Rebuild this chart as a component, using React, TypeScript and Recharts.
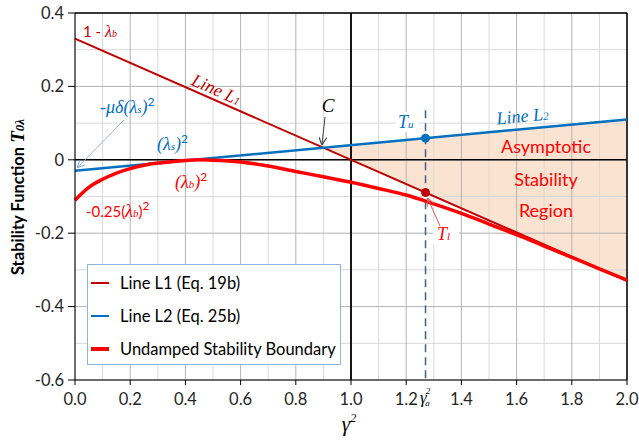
import React from 'react'
import {
  ComposedChart,
  Line,
  Area,
  XAxis,
  YAxis,
  ReferenceLine,
  ReferenceDot,
} from 'recharts'

// gamma^2 samples for the undamped stability boundary
const gammaSq = [0, 0.05, 0.1, 0.15, 0.2, 0.25, 0.3, 0.35, 0.4, 0.45, 0.5, 0.6, 0.7, 0.8, 0.9, 1.0, 1.1, 1.2, 1.3, 1.4, 1.5, 1.6, 1.7, 1.8, 1.9, 2.0]
const boundary = [-0.11, -0.075, -0.053, -0.036, -0.024, -0.015, -0.009, -0.005, -0.002, 0, -0.001, -0.006, -0.017, -0.032, -0.046, -0.061, -0.078, -0.096, -0.12, -0.146, -0.175, -0.204, -0.235, -0.266, -0.297, -0.328]

// Line L1 (Eq. 19b) and Line L2 (Eq. 25b)
const l1X = [0, 2]
const l1Y = [0.33, -0.33]
const l2X = [0, 2]
const l2Y = [-0.03, 0.11]

// asymptotic stability region, between L1 and L2 from point C
const regionX = [0.9, 2]
const regionLow = [0.033, -0.33]
const regionHigh = [0.033, 0.11]

const gammaA2 = 1.27
const tU = 0.059
const tL = -0.089

const xTicks = [0, 0.2, 0.4, 0.6, 0.8, 1.0, 1.2, 1.4, 1.6, 1.8, 2.0]
const yTicks = [-0.6, -0.4, -0.2, 0, 0.2, 0.4]
const xMinor = [0.1, 0.3, 0.5, 0.7, 0.9, 1.1, 1.3, 1.5, 1.7, 1.9]
const yMinor = [-0.5, -0.3, -0.1, 0.1, 0.3]

const boundaryData = gammaSq.map((x, i) => ({ x, y: boundary[i] }))
const l1Data = l1X.map((x, i) => ({ x, y: l1Y[i] }))
const l2Data = l2X.map((x, i) => ({ x, y: l2Y[i] }))
const regionData = regionX.map((x, i) => ({ x, r: [regionLow[i], regionHigh[i]] }))

const DARK_RED = '#C00000'
const BLUE = '#0070C0'
const RED = '#FF0000'
const SANS = 'Lato, "Noto Sans", sans-serif'
const SERIF = '"Liberation Serif", "DejaVu Serif", serif'

const legendItems = [
  { name: 'Line L1 (Eq. 19b)', color: DARK_RED, w: 2 },
  { name: 'Line L2 (Eq. 25b)', color: BLUE, w: 2.5 },
  { name: 'Undamped Stability Boundary', color: RED, w: 3.5 },
]

export default function App() {
  return (
    <div style={{ position: 'relative', width: 639, height: 441, background: '#fff', fontFamily: SANS }}>
      <style>{'body{margin:0}'}</style>
      <ComposedChart width={639} height={441} margin={{ top: 13, right: 12, left: 0, bottom: 0 }}>
        <XAxis
          type="number"
          dataKey="x"
          domain={[0, 2]}
          ticks={xTicks}
          tickFormatter={(v: number) => v.toFixed(1)}
          allowDuplicatedCategory={false}
          height={61}
          stroke="#000"
          tickSize={5}
          tickMargin={8}
          tick={{ fill: '#262626', fontSize: 16.5, fontFamily: SANS }}
        />
        <YAxis
          type="number"
          domain={[-0.6, 0.4]}
          ticks={yTicks}
          tickFormatter={(v: number) => (v === 0 ? '0' : v.toFixed(1))}
          width={75}
          stroke="#000"
          tickSize={7}
          tickMargin={4}
          tick={{ fill: '#262626', fontSize: 16.5, fontFamily: SANS }}
        />
        {xMinor.map((v) => (
          <ReferenceLine key={'xm' + v} x={v} stroke="#D9D9D9" strokeWidth={1} />
        ))}
        {yMinor.map((v) => (
          <ReferenceLine key={'ym' + v} y={v} stroke="#D9D9D9" strokeWidth={1} />
        ))}
        {xTicks.map((v) => (
          <ReferenceLine key={'xM' + v} x={v} stroke="#B3B3B3" strokeWidth={1} />
        ))}
        {yTicks.map((v) => (
          <ReferenceLine key={'yM' + v} y={v} stroke="#B3B3B3" strokeWidth={1} />
        ))}
        <Area
          data={regionData}
          dataKey="r"
          type="linear"
          fill="#FBE3D2"
          fillOpacity={1}
          stroke="none"
          isAnimationActive={false}
        />
        <ReferenceLine y={0.4} stroke="#000" strokeWidth={1.5} />
        <ReferenceLine x={2} stroke="#000" strokeWidth={1.5} />
        <ReferenceLine y={0} stroke="#000" strokeWidth={1.5} />
        <ReferenceLine x={1} stroke="#000" strokeWidth={1.8} />
        <ReferenceLine
          segment={[{ x: gammaA2, y: 0.135 }, { x: gammaA2, y: -0.6 }]}
          stroke="#3F5F8F"
          strokeWidth={1.5}
          strokeDasharray="8 5"
        />
        <Line data={l1Data} dataKey="y" type="linear" stroke={DARK_RED} strokeWidth={2} dot={false} isAnimationActive={false} />
        <Line data={l2Data} dataKey="y" type="linear" stroke={BLUE} strokeWidth={2.5} dot={false} isAnimationActive={false} />
        <Line data={boundaryData} dataKey="y" type="monotone" stroke={RED} strokeWidth={3.5} dot={false} isAnimationActive={false} />
        <ReferenceDot x={gammaA2} y={tU} r={4} fill={BLUE} stroke={BLUE} />
        <ReferenceDot x={gammaA2} y={tL} r={4} fill={DARK_RED} stroke={DARK_RED} />
      </ComposedChart>

      <svg width={639} height={441} style={{ position: 'absolute', left: 0, top: 0, pointerEvents: 'none' }}>
        <defs>
          <marker id="arrBlue" markerWidth="8" markerHeight="8" refX="7" refY="4" orient="auto">
            <path d="M0,0 L8,4 L0,8" fill="none" stroke="#7FA7D9" strokeWidth="1" />
          </marker>
          <marker id="arrGray" markerWidth="8" markerHeight="8" refX="7" refY="4" orient="auto">
            <path d="M0,0 L8,4 L0,8" fill="none" stroke="#404040" strokeWidth="1.2" />
          </marker>
          <marker id="arrRed" markerWidth="8" markerHeight="8" refX="7" refY="4" orient="auto">
            <path d="M0,0 L8,4 L0,8" fill="none" stroke="#D06060" strokeWidth="1" />
          </marker>
        </defs>

        {/* y axis title */}
        <text transform="translate(24,197) rotate(-90)" textAnchor="middle" fontFamily={SANS} fontWeight="bold" fontSize={16.5} fill="#000">
          Stability Function <tspan fontFamily={SERIF} fontStyle="italic" fontSize={19}>T</tspan>
          <tspan fontFamily={SERIF} fontStyle="italic" fontSize={13}>0λ</tspan>
        </text>

        {/* x axis title */}
        <text x={349} y={431} textAnchor="middle" fontFamily={SERIF} fontStyle="italic" fontSize={21} fill="#000">
          γ<tspan fontSize={12} dy={-9}>2</tspan>
        </text>
        <rect x={419} y={386} width={16} height={22} fill="#fff" />
        <text x={420} y={403} fontFamily={SERIF} fontStyle="italic" fontSize={17} fill="#000">
          γ<tspan fontSize={9} dx={-1} dy={-9}>2</tspan><tspan fontSize={9} dx={-5} dy={12}>a</tspan>
        </text>

        {/* L1 annotations */}
        <text x={83} y={37} fontFamily={SANS} fontSize={15} fill={DARK_RED}>
          1 - <tspan fontFamily={SERIF} fontStyle="italic" fontSize={16}>λ</tspan><tspan fontFamily={SERIF} fontStyle="italic" fontSize={10}>b</tspan>
        </text>
        <text transform="translate(214,95) rotate(23.7)" textAnchor="middle" fontFamily={SERIF} fontStyle="italic" fontSize={18} fill={DARK_RED}>
          Line L<tspan fontSize={11}>1</tspan>
        </text>

        {/* L2 annotations */}
        <text x={100} y={113} fontFamily={SERIF} fontStyle="italic" fontSize={18} fill={BLUE}>
          -μδ(λ<tspan fontSize={11}>s</tspan>)<tspan fontStyle="normal" fontFamily={SANS} fontSize={12} dy={-7}>2</tspan>
        </text>
        <line x1={124} y1={120} x2={78} y2={167} stroke="#8DB4E2" strokeWidth={1} markerEnd="url(#arrBlue)" />
        <text x={157} y={150} fontFamily={SERIF} fontStyle="italic" fontSize={18} fill={BLUE}>
          (λ<tspan fontSize={11}>s</tspan>)<tspan fontStyle="normal" fontFamily={SANS} fontSize={12} dy={-7}>2</tspan>
        </text>
        <text transform="translate(523,122) rotate(-5.3)" textAnchor="middle" fontFamily={SERIF} fontStyle="italic" fontSize={18} fill={BLUE}>
          Line L<tspan fontSize={11}>2</tspan>
        </text>
        <rect x={396} y={112} width={22} height={20} fill="#fff" />
        <text x={398} y={128} fontFamily={SERIF} fontStyle="italic" fontSize={18} fill={BLUE}>
          T<tspan fontSize={11}>u</tspan>
        </text>

        {/* boundary annotations */}
        <text x={175} y={188} fontFamily={SERIF} fontStyle="italic" fontSize={18} fill={RED}>
          (λ<tspan fontSize={11}>b</tspan>)<tspan fontStyle="normal" fontFamily={SANS} fontSize={12} dy={-7}>2</tspan>
        </text>
        <text x={86} y={217} fontFamily={SANS} fontSize={15} fill={RED}>
          -0.25(<tspan fontFamily={SERIF} fontStyle="italic" fontSize={18}>λ</tspan><tspan fontFamily={SERIF} fontStyle="italic" fontSize={11}>b</tspan>)<tspan fontSize={12} dy={-7}>2</tspan>
        </text>

        {/* point C */}
        <text x={328} y={112} textAnchor="middle" fontFamily={SERIF} fontStyle="italic" fontSize={19} fill="#000">C</text>
        <line x1={325} y1={117} x2={322} y2={144} stroke="#404040" strokeWidth={1} markerEnd="url(#arrGray)" />

        {/* T lower */}
        <rect x={433} y={222} width={26} height={22} fill="#fff" />
        <text x={437} y={240} fontFamily={SERIF} fontStyle="italic" fontSize={18} fill={RED}>
          T<tspan fontSize={11}>l</tspan>
        </text>
        <line x1={440} y1={226} x2={428} y2={199} stroke="#D06060" strokeWidth={1} markerEnd="url(#arrRed)" />

        {/* region text */}
        <g fontFamily={SANS} fontSize={18} fill={RED} textAnchor="middle">
          <text x={546} y={153}>Asymptotic</text>
          <text x={546} y={186}>Stability</text>
          <text x={546} y={217}>Region</text>
        </g>
      </svg>

      <div
        style={{
          position: 'absolute',
          left: 87,
          top: 264,
          width: 252,
          height: 99,
          background: '#fff',
          border: '1px solid #8EB4E3',
          fontFamily: SANS,
          fontSize: 16.5,
          color: '#000',
        }}
      >
        {legendItems.map((it, i) => (
          <div key={it.name} style={{ position: 'absolute', left: 3, top: 8 + i * 33, height: 20, display: 'flex', alignItems: 'center' }}>
            <div style={{ width: 18, height: it.w, background: it.color, marginRight: 11 }} />
            <span>{it.name}</span>
          </div>
        ))}
      </div>
    </div>
  )
}
